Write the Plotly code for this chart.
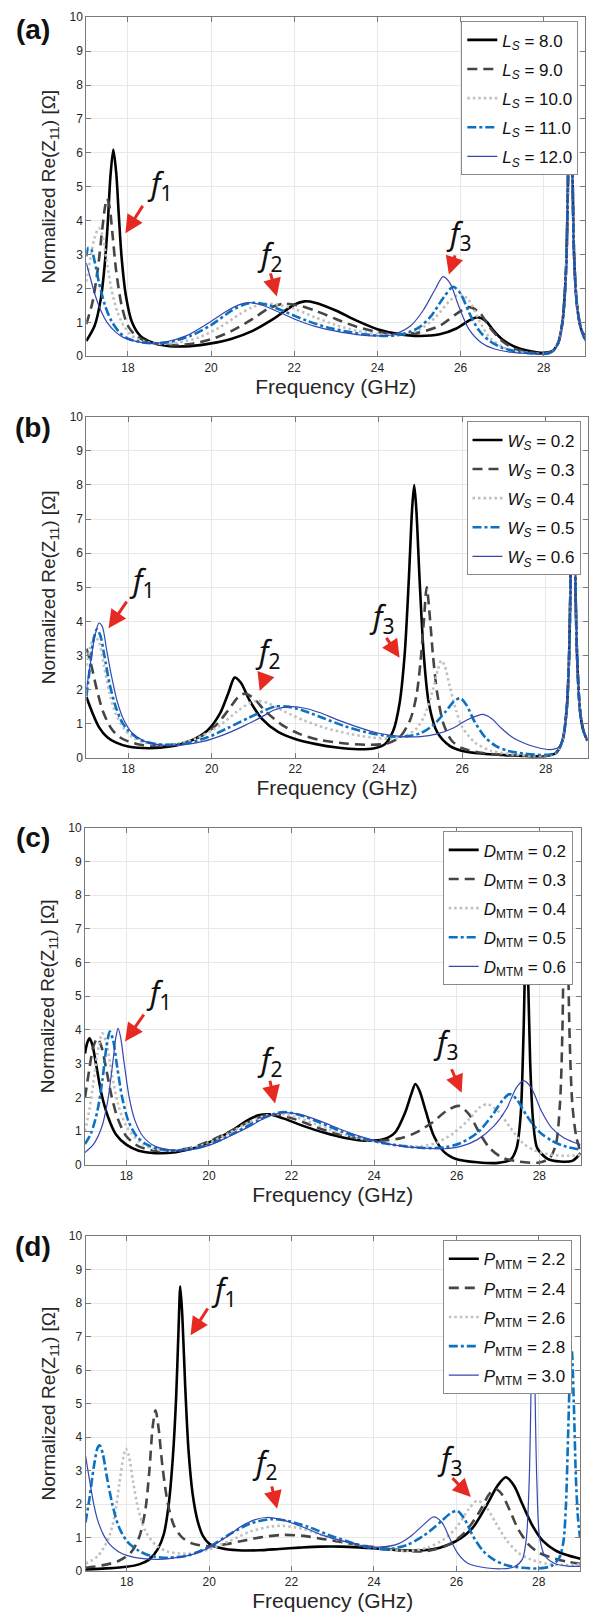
import plotly.graph_objects as go

W, H = 598, 1623

# ---------------- tick labels ----------------
X_TICKS = [18, 20, 22, 24, 26, 28]
Y_TICKS = [0, 1, 2, 3, 4, 5, 6, 7, 8, 9, 10]

# ---------------- panel (a): L_S sweep ----------------
a_names = ["8.0", "9.0", "10.0", "11.0", "12.0"]
a1_x = [17.0, 17.2, 17.35, 17.45, 17.52, 17.58, 17.65, 17.72, 17.78, 17.85, 17.95, 18.1, 18.3, 18.6, 19.0, 19.5, 20.0, 20.5, 21.0, 21.5, 22.0, 22.25, 22.5, 23.0, 23.5, 24.0, 24.5, 25.0, 25.5, 25.9, 26.2, 26.4, 26.6, 26.8, 27.0, 27.3, 27.6, 28.0, 28.2, 28.35, 28.45, 28.5, 28.55, 28.6, 28.64, 28.68, 28.73, 28.8, 28.9, 29.0]
a1_y = [0.45, 0.9, 1.7, 2.8, 4.0, 5.3, 6.1, 5.4, 4.2, 2.9, 1.8, 1.0, 0.6, 0.4, 0.3, 0.3, 0.38, 0.52, 0.75, 1.1, 1.52, 1.62, 1.58, 1.35, 1.05, 0.8, 0.66, 0.6, 0.65, 0.82, 1.05, 1.15, 1.05, 0.75, 0.5, 0.28, 0.17, 0.1, 0.15, 0.4, 1.0, 1.7, 3.0, 6.5, 9.0, 6.5, 3.0, 1.5, 0.8, 0.55]
a2_x = [17.0, 17.15, 17.28, 17.38, 17.45, 17.5, 17.56, 17.63, 17.72, 17.85, 18.0, 18.2, 18.5, 19.0, 19.5, 20.0, 20.5, 21.0, 21.4, 21.75, 22.1, 22.5, 23.0, 23.5, 24.0, 24.5, 25.0, 25.5, 25.9, 26.2, 26.45, 26.7, 27.0, 27.3, 27.6, 28.0, 28.2, 28.35, 28.45, 28.5, 28.55, 28.6, 28.64, 28.68, 28.73, 28.8, 28.9, 29.0]
a2_y = [0.95, 1.6, 2.6, 3.7, 4.4, 4.65, 4.4, 3.6, 2.5, 1.5, 0.9, 0.6, 0.42, 0.33, 0.36, 0.5, 0.75, 1.1, 1.42, 1.55, 1.5, 1.35, 1.1, 0.87, 0.72, 0.65, 0.7, 0.9, 1.25, 1.45, 1.3, 0.85, 0.45, 0.22, 0.13, 0.08, 0.14, 0.4, 1.0, 1.7, 3.0, 6.5, 9.0, 6.5, 3.0, 1.5, 0.8, 0.55]
a3_x = [17.0, 17.1, 17.2, 17.3, 17.38, 17.48, 17.6, 17.75, 17.9, 18.1, 18.4, 18.8, 19.2, 19.7, 20.2, 20.7, 21.0, 21.3, 21.6, 22.0, 22.5, 23.0, 23.5, 24.0, 24.5, 25.0, 25.4, 25.75, 26.0, 26.2, 26.45, 26.7, 27.0, 27.3, 27.7, 28.0, 28.2, 28.35, 28.45, 28.5, 28.55, 28.6, 28.64, 28.68, 28.73, 28.8, 28.9, 29.0]
a3_y = [2.2, 2.9, 3.5, 3.78, 3.6, 2.9, 2.0, 1.3, 0.9, 0.6, 0.43, 0.37, 0.4, 0.55, 0.85, 1.25, 1.45, 1.55, 1.52, 1.4, 1.15, 0.92, 0.75, 0.65, 0.63, 0.78, 1.15, 1.65, 1.83, 1.65, 1.05, 0.55, 0.28, 0.15, 0.09, 0.07, 0.13, 0.4, 1.0, 1.7, 3.0, 6.5, 9.0, 6.5, 3.0, 1.5, 0.8, 0.5]
a4_x = [17.0, 17.05, 17.12, 17.2, 17.3, 17.45, 17.6, 17.8, 18.0, 18.3, 18.6, 19.0, 19.5, 20.0, 20.5, 20.8, 21.05, 21.4, 21.8, 22.3, 22.8, 23.3, 23.8, 24.2, 24.6, 25.0, 25.3, 25.6, 25.82, 26.0, 26.2, 26.45, 26.7, 27.0, 27.4, 27.8, 28.0, 28.2, 28.35, 28.45, 28.5, 28.55, 28.6, 28.64, 28.68, 28.73, 28.8, 28.9, 29.0]
a4_y = [2.95, 3.2, 3.15, 2.8, 2.2, 1.5, 1.05, 0.7, 0.52, 0.42, 0.38, 0.42, 0.6, 0.92, 1.35, 1.53, 1.58, 1.5, 1.3, 1.05, 0.85, 0.72, 0.63, 0.6, 0.65, 0.85, 1.2, 1.75, 2.05, 1.85, 1.3, 0.75, 0.45, 0.25, 0.13, 0.08, 0.07, 0.13, 0.4, 1.0, 1.7, 3.0, 6.5, 9.0, 6.5, 3.0, 1.5, 0.8, 0.45]
a5_x = [17.0, 17.1, 17.2, 17.35, 17.5, 17.7, 17.9, 18.2, 18.5, 18.9, 19.4, 19.9, 20.4, 20.7, 20.9, 21.2, 21.6, 22.0, 22.5, 23.0, 23.5, 24.0, 24.4, 24.8, 25.1, 25.4, 25.58, 25.75, 25.95, 26.2, 26.5, 26.8, 27.2, 27.6, 28.0, 28.2, 28.35, 28.45, 28.5, 28.55, 28.6, 28.64, 28.68, 28.73, 28.8, 28.9, 29.0]
a5_y = [2.75, 2.3, 1.85, 1.35, 1.0, 0.72, 0.55, 0.44, 0.38, 0.42, 0.6, 0.95, 1.35, 1.53, 1.58, 1.52, 1.32, 1.1, 0.88, 0.74, 0.64, 0.6, 0.65, 0.9, 1.35, 2.0, 2.35, 2.15, 1.5, 0.8, 0.4, 0.22, 0.12, 0.08, 0.06, 0.12, 0.4, 1.0, 1.7, 3.0, 6.5, 9.0, 6.5, 3.0, 1.5, 0.8, 0.45]

# ---------------- panel (b): W_S sweep ----------------
b_names = ["0.2", "0.3", "0.4", "0.5", "0.6"]
b1_x = [17.0, 17.15, 17.3, 17.5, 17.7, 18.0, 18.5, 19.0, 19.5, 19.9, 20.2, 20.4, 20.55, 20.7, 20.9, 21.2, 21.6, 22.0, 22.5, 23.0, 23.5, 23.9, 24.15, 24.35, 24.5, 24.62, 24.72, 24.8, 24.85, 24.9, 24.98, 25.08, 25.2, 25.4, 25.7, 26.0, 26.5, 27.0, 27.5, 28.0, 28.25, 28.4, 28.5, 28.56, 28.61, 28.65, 28.69, 28.75, 28.82, 28.9, 29.0]
b1_y = [1.78, 1.3, 0.9, 0.6, 0.45, 0.33, 0.28, 0.33, 0.5, 0.8, 1.3, 1.9, 2.35, 2.2, 1.7, 1.15, 0.75, 0.55, 0.4, 0.3, 0.25, 0.28, 0.4, 0.8, 1.6, 3.0, 5.2, 7.3, 8.0, 7.3, 5.2, 3.0, 1.6, 0.75, 0.35, 0.2, 0.12, 0.08, 0.05, 0.05, 0.15, 0.5, 1.4, 3.0, 6.5, 9.0, 6.5, 3.0, 1.4, 0.8, 0.5]
b2_x = [17.0, 17.1, 17.25, 17.4, 17.6, 17.8, 18.0, 18.3, 18.7, 19.2, 19.7, 20.1, 20.4, 20.65, 20.8, 21.0, 21.3, 21.7, 22.1, 22.6, 23.2, 23.8, 24.2, 24.5, 24.75, 24.9, 25.0, 25.08, 25.15, 25.22, 25.3, 25.4, 25.55, 25.75, 26.0, 26.5, 27.0, 27.5, 28.0, 28.25, 28.4, 28.5, 28.56, 28.61, 28.65, 28.69, 28.75, 28.82, 28.9, 29.0]
b2_y = [3.2, 2.8, 2.0, 1.35, 0.85, 0.6, 0.48, 0.38, 0.35, 0.4, 0.6, 0.95, 1.4, 1.8, 1.88, 1.75, 1.35, 0.95, 0.7, 0.52, 0.42, 0.38, 0.42, 0.6, 1.1, 1.8, 2.8, 4.0, 5.0, 4.2, 3.0, 1.9, 1.0, 0.5, 0.28, 0.14, 0.08, 0.06, 0.05, 0.15, 0.5, 1.4, 3.0, 6.5, 9.0, 6.5, 3.0, 1.4, 0.8, 0.5]
b3_x = [17.0, 17.1, 17.2, 17.3, 17.42, 17.55, 17.7, 17.9, 18.1, 18.4, 18.7, 19.2, 19.7, 20.2, 20.6, 20.9, 21.1, 21.35, 21.7, 22.2, 22.7, 23.3, 23.8, 24.2, 24.6, 24.9, 25.1, 25.3, 25.42, 25.5, 25.58, 25.7, 25.85, 26.0, 26.3, 26.7, 27.2, 27.7, 28.0, 28.25, 28.4, 28.5, 28.56, 28.61, 28.65, 28.69, 28.75, 28.82, 28.9, 29.0]
b3_y = [2.7, 3.3, 3.55, 3.4, 2.7, 1.9, 1.3, 0.85, 0.6, 0.45, 0.38, 0.42, 0.6, 0.95, 1.35, 1.6, 1.67, 1.6, 1.38, 1.1, 0.88, 0.7, 0.6, 0.56, 0.62, 0.85, 1.25, 2.0, 2.6, 2.85, 2.7, 2.1, 1.4, 0.9, 0.45, 0.2, 0.1, 0.06, 0.05, 0.15, 0.5, 1.4, 3.0, 6.5, 9.0, 6.5, 3.0, 1.4, 0.8, 0.5]
b4_x = [17.0, 17.08, 17.16, 17.25, 17.33, 17.43, 17.55, 17.7, 17.85, 18.0, 18.3, 18.6, 18.9, 19.4, 19.9, 20.4, 20.9, 21.2, 21.5, 21.8, 22.2, 22.7, 23.2, 23.7, 24.2, 24.6, 25.0, 25.3, 25.6, 25.8, 25.95, 26.1, 26.3, 26.55, 26.8, 27.1, 27.5, 28.0, 28.25, 28.4, 28.5, 28.56, 28.61, 28.65, 28.69, 28.75, 28.82, 28.9, 29.0]
b4_y = [1.8, 2.6, 3.4, 3.77, 3.6, 3.0, 2.2, 1.5, 1.05, 0.8, 0.52, 0.42, 0.38, 0.42, 0.6, 0.88, 1.18, 1.35, 1.5, 1.5, 1.38, 1.15, 0.92, 0.75, 0.64, 0.62, 0.72, 0.95, 1.35, 1.65, 1.75, 1.55, 1.05, 0.6, 0.35, 0.2, 0.12, 0.08, 0.15, 0.5, 1.4, 3.0, 6.5, 9.0, 6.5, 3.0, 1.4, 0.8, 0.5]
b5_x = [17.0, 17.1, 17.2, 17.3, 17.38, 17.48, 17.6, 17.75, 17.9, 18.1, 18.4, 18.8, 19.3, 19.8, 20.3, 20.8, 21.2, 21.5, 21.85, 22.2, 22.6, 23.0, 23.5, 24.0, 24.5, 25.0, 25.4, 25.8, 26.1, 26.35, 26.5, 26.7, 26.95, 27.2, 27.5, 27.8, 28.1, 28.3, 28.42, 28.5, 28.56, 28.61, 28.65, 28.69, 28.75, 28.82, 28.9, 29.0]
b5_y = [2.0, 2.8, 3.55, 3.95, 3.85, 3.2, 2.4, 1.6, 1.1, 0.72, 0.48, 0.37, 0.38, 0.48, 0.68, 0.95, 1.2, 1.4, 1.5, 1.46, 1.32, 1.12, 0.9, 0.72, 0.63, 0.62, 0.7, 0.88, 1.1, 1.23, 1.27, 1.15, 0.85, 0.6, 0.42, 0.3, 0.24, 0.3, 0.6, 1.4, 3.0, 6.5, 9.0, 6.5, 3.0, 1.4, 0.8, 0.5]

# ---------------- panel (c): D_MTM sweep ----------------
c_names = ["0.2", "0.3", "0.4", "0.5", "0.6"]
c1_x = [17.0, 17.05, 17.11, 17.18, 17.28, 17.4, 17.55, 17.75, 18.0, 18.3, 18.7, 19.2, 19.7, 20.2, 20.6, 20.9, 21.2, 21.45, 21.8, 22.3, 22.8, 23.3, 23.8, 24.2, 24.5, 24.75, 24.9, 25.0, 25.1, 25.25, 25.45, 25.7, 26.0, 26.5, 27.0, 27.3, 27.45, 27.55, 27.62, 27.68, 27.72, 27.78, 27.85, 27.95, 28.2, 28.5, 28.8, 29.0]
c1_y = [3.3, 3.6, 3.75, 3.55, 2.9, 2.1, 1.45, 0.9, 0.6, 0.42, 0.35, 0.38, 0.52, 0.78, 1.05, 1.3, 1.47, 1.5, 1.38, 1.15, 0.95, 0.8, 0.72, 0.75, 0.95, 1.55, 2.1, 2.4, 2.2, 1.6, 0.85, 0.38, 0.17, 0.08, 0.06, 0.15, 0.5, 1.5, 4.0, 7.0, 6.0, 3.0, 1.3, 0.5, 0.18, 0.1, 0.12, 0.35]
c2_x = [17.0, 17.1, 17.2, 17.3, 17.4, 17.52, 17.65, 17.8, 18.0, 18.3, 18.7, 19.1, 19.6, 20.1, 20.6, 21.0, 21.4, 21.7, 22.1, 22.6, 23.1, 23.6, 24.1, 24.6, 25.0, 25.4, 25.75, 26.05, 26.3, 26.55, 26.8, 27.1, 27.5, 28.0, 28.25, 28.4, 28.5, 28.56, 28.6, 28.64, 28.68, 28.73, 28.8, 28.9, 29.0]
c2_y = [2.0, 2.8, 3.5, 3.75, 3.5, 2.8, 2.0, 1.35, 0.85, 0.55, 0.42, 0.42, 0.52, 0.75, 1.05, 1.3, 1.48, 1.48, 1.35, 1.12, 0.92, 0.78, 0.72, 0.78, 0.95, 1.25, 1.6, 1.75, 1.5, 0.95, 0.5, 0.22, 0.1, 0.07, 0.2, 0.6, 1.8, 4.0, 7.5, 9.0, 7.5, 4.0, 1.8, 0.8, 0.4]
c3_x = [17.0, 17.1, 17.2, 17.3, 17.42, 17.52, 17.65, 17.8, 18.0, 18.3, 18.6, 19.0, 19.5, 20.0, 20.5, 21.0, 21.4, 21.7, 22.1, 22.6, 23.1, 23.6, 24.1, 24.6, 25.1, 25.5, 25.9, 26.3, 26.55, 26.75, 27.0, 27.3, 27.6, 27.9, 28.3, 28.7, 29.0]
c3_y = [1.0, 1.6, 2.4, 3.3, 3.9, 3.6, 2.7, 1.8, 1.15, 0.7, 0.5, 0.42, 0.48, 0.65, 0.95, 1.28, 1.47, 1.52, 1.42, 1.2, 0.98, 0.8, 0.67, 0.58, 0.55, 0.65, 0.92, 1.35, 1.7, 1.8, 1.6, 1.1, 0.65, 0.42, 0.3, 0.27, 0.3]
c4_x = [17.0, 17.15, 17.3, 17.42, 17.52, 17.6, 17.68, 17.78, 17.9, 18.05, 18.25, 18.5, 18.8, 19.2, 19.7, 20.2, 20.7, 21.2, 21.55, 21.8, 22.2, 22.7, 23.2, 23.7, 24.2, 24.7, 25.2, 25.7, 26.1, 26.5, 26.85, 27.1, 27.28, 27.45, 27.7, 28.0, 28.3, 28.6, 29.0]
c4_y = [0.62, 0.95, 1.6, 2.5, 3.5, 3.95, 3.7, 2.9, 2.0, 1.3, 0.85, 0.6, 0.47, 0.43, 0.5, 0.7, 1.0, 1.32, 1.5, 1.57, 1.48, 1.25, 1.0, 0.8, 0.65, 0.56, 0.5, 0.52, 0.65, 0.95, 1.45, 1.9, 2.1, 1.95, 1.45, 0.98, 0.72, 0.56, 0.45]
c5_x = [17.0, 17.2, 17.4, 17.55, 17.67, 17.75, 17.8, 17.86, 17.95, 18.07, 18.2, 18.4, 18.7, 19.1, 19.5, 20.0, 20.5, 21.0, 21.4, 21.8, 22.2, 22.7, 23.2, 23.7, 24.2, 24.7, 25.2, 25.7, 26.1, 26.5, 26.9, 27.2, 27.45, 27.62, 27.8, 28.05, 28.3, 28.6, 29.0]
c5_y = [0.37, 0.6, 1.1, 1.9, 3.0, 3.8, 4.05, 3.8, 3.0, 2.0, 1.35, 0.85, 0.55, 0.44, 0.44, 0.58, 0.85, 1.15, 1.42, 1.55, 1.5, 1.3, 1.05, 0.83, 0.66, 0.55, 0.5, 0.48, 0.55, 0.75, 1.15, 1.65, 2.3, 2.5, 2.3, 1.6, 1.1, 0.8, 0.6]

# ---------------- panel (d): P_MTM sweep ----------------
d_names = ["2.2", "2.4", "2.6", "2.8", "3.0"]
d1_x = [17.0, 17.5, 18.0, 18.3, 18.55, 18.75, 18.9, 19.02, 19.12, 19.2, 19.26, 19.3, 19.35, 19.42, 19.5, 19.6, 19.72, 19.85, 20.0, 20.3, 20.7, 21.2, 21.7, 22.2, 22.7, 23.2, 23.7, 24.2, 24.7, 25.2, 25.6, 26.0, 26.4, 26.75, 27.0, 27.2, 27.4, 27.6, 27.85, 28.1, 28.4, 28.7, 29.0]
d1_y = [0.05, 0.08, 0.13, 0.2, 0.35, 0.65, 1.1, 2.0, 3.4, 5.2, 7.3, 8.5, 7.6, 5.5, 3.6, 2.3, 1.5, 1.05, 0.82, 0.68, 0.62, 0.62, 0.66, 0.7, 0.73, 0.73, 0.7, 0.66, 0.62, 0.62, 0.7, 0.9, 1.3, 2.0, 2.55, 2.8, 2.55, 2.0, 1.35, 0.9, 0.62, 0.47, 0.37]
d2_x = [17.0, 17.4, 17.8, 18.1, 18.3, 18.45, 18.55, 18.63, 18.7, 18.77, 18.87, 19.0, 19.15, 19.35, 19.6, 20.0, 20.4, 20.8, 21.3, 21.8, 22.3, 22.8, 23.3, 23.8, 24.3, 24.8, 25.3, 25.8, 26.2, 26.55, 26.8, 26.95, 27.1, 27.3, 27.5, 27.75, 28.0, 28.4, 28.7, 29.0]
d2_y = [0.1, 0.17, 0.3, 0.55, 1.0, 1.8, 3.0, 4.3, 4.8, 4.3, 3.1, 2.0, 1.35, 1.0, 0.82, 0.74, 0.8, 0.9, 1.02, 1.08, 1.05, 0.95, 0.85, 0.75, 0.67, 0.6, 0.6, 0.78, 1.15, 1.75, 2.3, 2.45, 2.3, 1.8, 1.25, 0.8, 0.55, 0.37, 0.28, 0.22]
d3_x = [17.0, 17.3, 17.55, 17.7, 17.82, 17.92, 17.98, 18.05, 18.15, 18.28, 18.45, 18.7, 19.0, 19.5, 20.0, 20.5, 21.0, 21.5, 21.8, 22.3, 22.8, 23.3, 23.8, 24.3, 24.8, 25.3, 25.7, 26.0, 26.3, 26.5, 26.7, 26.95, 27.2, 27.5, 27.8, 28.2, 28.6, 29.0]
d3_y = [0.22, 0.45, 0.95, 1.6, 2.6, 3.4, 3.65, 3.45, 2.7, 1.85, 1.2, 0.78, 0.58, 0.52, 0.65, 0.9, 1.18, 1.33, 1.35, 1.25, 1.05, 0.88, 0.74, 0.65, 0.6, 0.7, 0.95, 1.3, 1.85, 2.1, 1.95, 1.45, 0.95, 0.55, 0.35, 0.22, 0.18, 0.2]
d4_x = [17.0, 17.1, 17.2, 17.3, 17.35, 17.42, 17.52, 17.65, 17.8, 18.0, 18.3, 18.6, 19.0, 19.5, 20.0, 20.5, 21.0, 21.5, 21.9, 22.4, 22.9, 23.4, 23.9, 24.3, 24.8, 25.2, 25.6, 25.85, 26.02, 26.2, 26.4, 26.65, 26.9, 27.2, 27.6, 28.0, 28.3, 28.5, 28.6, 28.66, 28.71, 28.76, 28.8, 28.85, 28.9, 28.95, 29.0]
d4_y = [1.45, 2.2, 3.1, 3.7, 3.75, 3.5, 2.8, 2.0, 1.35, 0.9, 0.6, 0.45, 0.4, 0.47, 0.72, 1.1, 1.42, 1.55, 1.5, 1.32, 1.08, 0.87, 0.7, 0.65, 0.78, 1.05, 1.45, 1.72, 1.8, 1.55, 1.05, 0.6, 0.35, 0.18, 0.1, 0.08, 0.15, 0.4, 0.9, 2.0, 4.0, 6.0, 6.6, 5.0, 2.8, 1.6, 1.0]
d5_x = [17.0, 17.1, 17.2, 17.3, 17.45, 17.6, 17.8, 18.0, 18.4, 18.8, 19.2, 19.6, 20.0, 20.4, 20.8, 21.1, 21.4, 21.8, 22.3, 22.8, 23.3, 23.8, 24.2, 24.6, 24.9, 25.2, 25.45, 25.65, 25.85, 26.05, 26.3, 26.7, 27.1, 27.4, 27.6, 27.7, 27.77, 27.82, 27.86, 27.9, 27.95, 28.02, 28.15, 28.4, 28.7, 29.0]
d5_y = [3.45, 2.7, 2.0, 1.5, 1.05, 0.78, 0.58, 0.47, 0.37, 0.35, 0.4, 0.5, 0.7, 1.0, 1.35, 1.53, 1.6, 1.52, 1.3, 1.05, 0.88, 0.74, 0.72, 0.82, 1.05, 1.38, 1.62, 1.45, 0.95, 0.5, 0.22, 0.1, 0.07, 0.12, 0.35, 1.0, 2.8, 6.0, 8.5, 6.0, 2.8, 1.0, 0.45, 0.22, 0.15, 0.14]

# ---------------- styles ----------------
STYLES = [
    dict(color="#000000", width=2.6, dash="solid"),
    dict(color="#454545", width=2.6, dash="10px,6px"),
    dict(color="#c0c0c0", width=2.6, dash="2.5px,3px"),
    dict(color="#0a72c0", width=2.6, dash="9px,3px,3px,3px"),
    dict(color="#3448b0", width=1.2, dash="solid"),
]
ARROW_RED = "#e62a22"
FONT = "Liberation Sans, Arial, sans-serif"


def px_x(p):
    return p / W


def px_y(p):
    return 1 - p / H


panels = [
    dict(label="(a)", lab_y=23, xd=(86.3, 585.3), yd=(10.3, 352.3), leg=(578.3, 14.5),
         series=[(a1_x, a1_y), (a2_x, a2_y), (a3_x, a3_y), (a4_x, a4_y), (a5_x, a5_y)],
         names=["<i>L</i><sub><i>S</i></sub> = " + n for n in a_names],
         f=[(18.78, 5.04, 18.38, 4.48, 17.94, 3.63),
            (21.42, 2.96, 21.42, 2.49, 21.58, 1.76),
            (25.97, 3.58, 25.88, 3.02, 25.72, 2.41)]),
    dict(label="(b)", lab_y=424, xd=(86.4, 587.5), yd=(413.3, 757.3), leg=(580.5, 418.0),
         series=[(b1_x, b1_y), (b2_x, b2_y), (b3_x, b3_y), (b4_x, b4_y), (b5_x, b5_y)],
         names=["<i>W</i><sub><i>S</i></sub> = " + n for n in b_names],
         f=[(18.34, 5.15, 17.99, 4.62, 17.53, 3.80),
            (21.35, 3.07, 21.31, 2.49, 21.15, 1.96),
            (24.09, 4.09, 24.16, 3.56, 24.50, 2.93)]),
    dict(label="(c)", lab_y=838, xd=(85.0, 580.6), yd=(827.7, 1168.0), leg=(572.7, 831.5),
         series=[(c1_x, c1_y), (c2_x, c2_y), (c3_x, c3_y), (c4_x, c4_y), (c5_x, c5_y)],
         names=["<i>D</i><sub>MTM</sub> = " + n for n in c_names],
         f=[(18.80, 5.08, 18.45, 4.50, 17.97, 3.66),
            (21.48, 3.08, 21.47, 2.54, 21.60, 1.82),
            (25.74, 3.57, 25.86, 2.88, 26.12, 2.14)]),
    dict(label="(d)", lab_y=1250, xd=(85.5, 580.0), yd=(1239.7, 1577.7), leg=(571.8, 1244.0),
         series=[(d1_x, d1_y), (d2_x, d2_y), (d3_x, d3_y), (d4_x, d4_y), (d5_x, d5_y)],
         names=["<i>P</i><sub>MTM</sub> = " + n for n in d_names],
         f=[(20.37, 8.37, 19.99, 7.88, 19.55, 7.04),
            (21.36, 3.21, 21.51, 2.57, 21.65, 1.86),
            (25.84, 3.31, 25.87, 2.82, 26.35, 2.21)]),
]

fig = go.Figure()
layout = dict(width=W, height=H, margin=dict(l=0, r=0, t=0, b=0),
              paper_bgcolor="white", plot_bgcolor="white",
              font=dict(family=FONT, color="#262626"), annotations=[])

for i, p in enumerate(panels):
    k = "" if i == 0 else str(i + 1)
    xa, ya = "x" + k, "y" + k
    legname = "legend" + k
    for j, ((xs, ys), nm) in enumerate(zip(p["series"], p["names"])):
        fig.add_trace(go.Scatter(
            x=xs, y=ys, mode="lines", name=nm, xaxis=xa, yaxis=ya,
            legend=legname, legendgroup=f"g{i}{j}",
            line=dict(shape="spline", smoothing=0.8, **STYLES[j]),
        ))
    axis_common = dict(showline=True, linecolor="#7a7a7a", linewidth=1, mirror="ticks",
                       ticks="inside", ticklen=5, tickcolor="#7a7a7a",
                       showgrid=True, gridcolor="#e8e8e8", gridwidth=1, zeroline=False,
                       tickfont=dict(size=12, color="#262626", family=FONT))
    layout["xaxis" + k] = dict(domain=[px_x(p["xd"][0]), px_x(p["xd"][1])], anchor=ya,
                               range=[17, 29], tickvals=X_TICKS,
                               ticktext=[str(t) for t in X_TICKS],
                               title=dict(text="Frequency (GHz)", standoff=2,
                                          font=dict(size=21, color="#262626", family=FONT)),
                               **axis_common)
    layout["yaxis" + k] = dict(domain=[px_y(p["yd"][1]), px_y(p["yd"][0])], anchor=xa,
                               range=[0, 10], tickvals=Y_TICKS,
                               ticktext=[str(t) for t in Y_TICKS],
                               title=dict(text="Normalized Re(Z<sub>11</sub>) [\u03a9]", standoff=8,
                                          font=dict(size=19, color="#262626", family=FONT)),
                               **axis_common)
    layout[legname] = dict(x=px_x(p["leg"][0]), y=px_y(p["leg"][1]), xanchor="right",
                           yanchor="top", bgcolor="white", bordercolor="#8a8a8a",
                           borderwidth=1, tracegroupgap=4, itemwidth=30,
                           font=dict(size=17, color="#111111", family=FONT))
    layout["annotations"].append(dict(
        text="<b>" + p["label"] + "</b>", xref="paper", yref="paper",
        x=px_x(33), y=px_y(p["lab_y"]), xanchor="center", yanchor="middle",
        showarrow=False, font=dict(size=28, color="#111111", family=FONT)))
    for n, (tx, ty, axx, ayy, hx, hy) in enumerate(p["f"]):
        layout["annotations"].append(dict(
            text=f"<i>f</i><sub>{n + 1}</sub>", xref=xa, yref=ya, x=tx, y=ty,
            xanchor="center", yanchor="middle", showarrow=False,
            font=dict(size=30, color="#111111", family="Noto Sans, Open Sans, sans-serif")))
        layout["annotations"].append(dict(
            text="", xref=xa, yref=ya, x=hx, y=hy, axref=xa, ayref=ya, ax=axx, ay=ayy,
            showarrow=True, arrowhead=2, arrowsize=1.2, arrowwidth=3,
            arrowcolor=ARROW_RED, standoff=0))

fig.update_layout(**layout)
fig.write_html("out.html", config={"displayModeBar": False},
               post_script="document.body.style.margin='0px';document.body.style.overflow='hidden';")
